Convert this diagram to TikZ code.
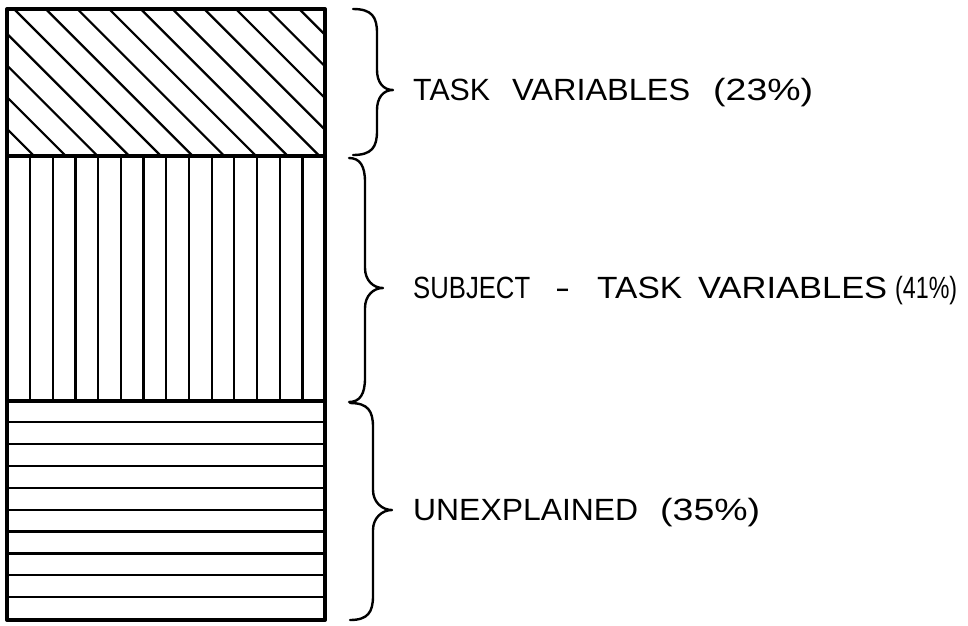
\documentclass[tikz,border=0pt]{standalone}
\usepackage{fontspec}
\usepackage{graphicx}
\setmainfont{Liberation Sans}
\newcommand\xfit[2]{\resizebox{#1}{\height}{#2}}
\newcommand\mybrace[6]{% endx, topy, boty, spinex, tipx, tipy
  \draw[bracestyle] (#1,#2) .. controls (#4-5,#2) and (#4,#2+8) .. (#4,#2+24)
    -- (#4,#6-20) .. controls (#4,#6-8) and (#5-10,#6) .. (#5,#6)
    .. controls (#5-10,#6) and (#4,#6+8) .. (#4,#6+20)
    -- (#4,#3-24) .. controls (#4,#3-8) and (#4-5,#3) .. (#1,#3);}
\begin{document}
\begin{tikzpicture}[x=1pt,y=-1pt,
  boxline/.style={line width=4pt,line cap=round,line join=round},
  hatch/.style={line width=2.2pt},
  bracestyle/.style={line width=2.4pt,line cap=round,line join=round},
  lab/.style={anchor=base west,inner sep=0pt,font=\fontsize{30.7}{36}\selectfont}]
\useasboundingbox (0,0) rectangle (968,625);
\fill[white] (0,0) rectangle (968,625);
% hatching: task variables (diagonal)
\begin{scope}
  \clip (7,9) rectangle (325,156);
  \foreach \k in {-5,...,10}
    \draw[hatch] ({14+31.7*\k},9) -- ({14+31.7*\k+147},156);
\end{scope}
% hatching: subject-task variables (vertical)
\foreach \k in {0,...,12}
  \draw[hatch] ({30+22.7*\k},156) -- ({30+22.7*\k},401);
% hatching: unexplained (horizontal)
\foreach \k in {0,...,8}
  \draw[hatch] (7,{422+21.9*\k}) -- (325,{422+21.9*\k});
% frame and divisions
\draw[boxline] (7,9) rectangle (325,620);
\draw[boxline] (7,156) -- (325,156);
\draw[boxline] (7,401) -- (325,401);
% braces
\mybrace{353}{9}{155}{377}{393}{90}
\mybrace{349}{158}{402}{365}{383}{288}
\mybrace{350}{403}{620}{373}{392}{510}
% labels
\node[lab] (t1) at (413,100) {\xfit{77pt}{TASK}\hspace{22pt}\xfit{178pt}{VARIABLES}\hspace{23pt}\xfit{100pt}{(23\%)}};
\node[lab] (t2) at (413,298) {\xfit{117pt}{SUBJECT}\hspace{25pt}\xfit{15pt}{-}\hspace{27pt}\xfit{85pt}{TASK}\hspace{16pt}\xfit{189pt}{VARIABLES}\hspace{8pt}\xfit{62pt}{(41\%)}};
\node[lab] (t3) at (413,520) {\xfit{225pt}{UNEXPLAINED}\hspace{22pt}\xfit{100pt}{(35\%)}};
\end{tikzpicture}
\end{document}
